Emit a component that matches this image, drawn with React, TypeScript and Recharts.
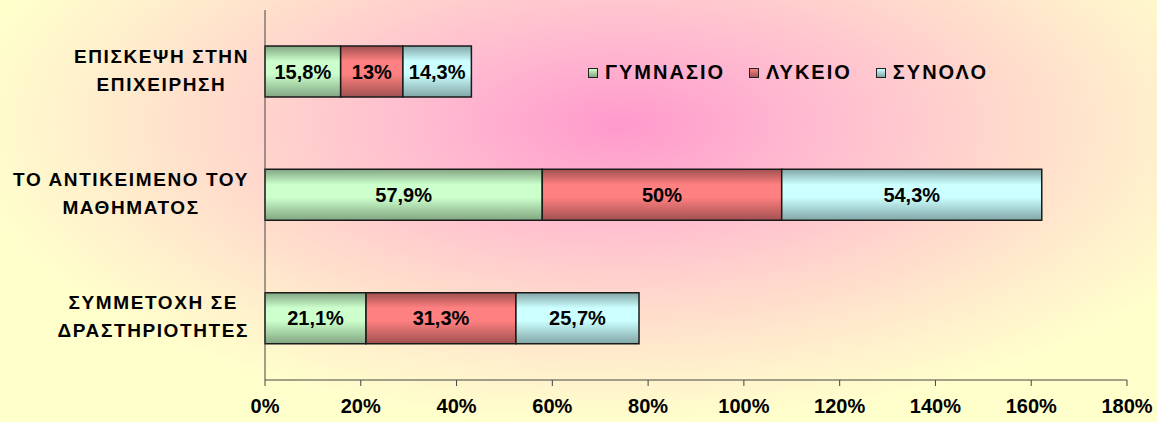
import React from "react";
import { BarChart, Bar, XAxis, YAxis, LabelList } from "recharts";

const categories = ["ΕΠΙΣΚΕΨΗ ΣΤΗΝ\nΕΠΙΧΕΙΡΗΣΗ", "ΤΟ ΑΝΤΙΚΕΙΜΕΝΟ ΤΟΥ\nΜΑΘΗΜΑΤΟΣ", "ΣΥΜΜΕΤΟΧΗ ΣΕ\nΔΡΑΣΤΗΡΙΟΤΗΤΕΣ"];
const gymnasio = [15.8, 57.9, 21.1];
const lykeio = [13, 50, 31.3];
const synolo = [14.3, 54.3, 25.7];
const xTicks = [0, 20, 40, 60, 80, 100, 120, 140, 160, 180];

const series = [
  { key: "gym", name: "ΓΥΜΝΑΣΙΟ", light: "#ccffcc", dark: "#82a682" },
  { key: "lyk", name: "ΛΥΚΕΙΟ", light: "#ff8080", dark: "#a05050" },
  { key: "syn", name: "ΣΥΝΟΛΟ", light: "#ccffff", dark: "#82a6a6" },
];

const data = categories.map((c, i) => ({ cat: c, gym: gymnasio[i], lyk: lykeio[i], syn: synolo[i] }));

const FONT = "'Liberation Sans', Arial, sans-serif";

const fmt = (v: any) => String(v).replace(".", ",") + "%";

function CatTick(props: any) {
  const { x, y, payload } = props;
  return (
    <foreignObject x={x - 258} y={y - 36} width={250} height={70}>
      <div style={{ display: "flex", justifyContent: "flex-end", alignItems: "center", height: "100%" }}>
        <div style={{ whiteSpace: "pre-line", textAlign: "center", fontFamily: FONT, fontWeight: "bold", fontSize: 19, lineHeight: "28px", letterSpacing: 1.6, color: "#000" }}>
          {payload.value}
        </div>
      </div>
    </foreignObject>
  );
}

function LegendBox() {
  return (
    <div style={{ position: "absolute", left: 588, top: 61, display: "flex", alignItems: "center", fontFamily: FONT, fontWeight: "bold", fontSize: 20, color: "#000" }}>
      {series.map((s) => (
        <div key={s.key} style={{ display: "flex", alignItems: "center", marginRight: 24 }}>
          <div style={{ width: 8, height: 8, border: "1.5px solid #222", background: `linear-gradient(${s.light}, ${s.dark})`, marginRight: 7 }} />
          <span style={{ letterSpacing: 2 }}>{s.name}</span>
        </div>
      ))}
    </div>
  );
}

export default function App() {
  return (
    <div
      style={{
        position: "relative",
        width: 1157,
        height: 422,
        background: "radial-gradient(ellipse 660px 300px at 620px 125px, #ff99cc 0%, #ffbbd0 30%, #ffd8cc 58%, #fff0cc 82%, #ffffcc 100%)",
      }}
    >
      <style>{"body{margin:0}"}</style>
      <BarChart width={1157} height={422} data={data} layout="vertical" margin={{ top: 10, right: 30, bottom: 0, left: 0 }} barSize={51}>
        <defs>
          {series.map((s) => (
            <linearGradient key={s.key} id={"g-" + s.key} x1="0" y1="0" x2="0" y2="1">
              <stop offset="0%" stopColor={s.dark} />
              <stop offset="30%" stopColor={s.light} />
              <stop offset="55%" stopColor={s.light} />
              <stop offset="100%" stopColor={s.dark} />
            </linearGradient>
          ))}
        </defs>
        <XAxis
          type="number"
          domain={[0, 180]}
          ticks={xTicks}
          tickFormatter={(v) => v + "%"}
          height={42}
          tickSize={6}
          tickMargin={13}
          axisLine={{ stroke: "#444" }}
          tickLine={{ stroke: "#444" }}
          tick={{ fill: "#000", fontFamily: FONT, fontWeight: "bold", fontSize: 20 }}
        />
        <YAxis type="category" dataKey="cat" width={265} axisLine={{ stroke: "#444" }} tickLine={false} tick={<CatTick />} />
        {series.map((s) => (
          <Bar key={s.key} dataKey={s.key} name={s.name} stackId="a" fill={`url(#g-${s.key})`} stroke="#1a1a1a" strokeWidth={1.5} isAnimationActive={false}>
            <LabelList dataKey={s.key} position="center" formatter={fmt} style={{ fill: "#000", fontFamily: FONT, fontWeight: "bold", fontSize: 20 }} />
          </Bar>
        ))}
      </BarChart>
      <LegendBox />
    </div>
  );
}
